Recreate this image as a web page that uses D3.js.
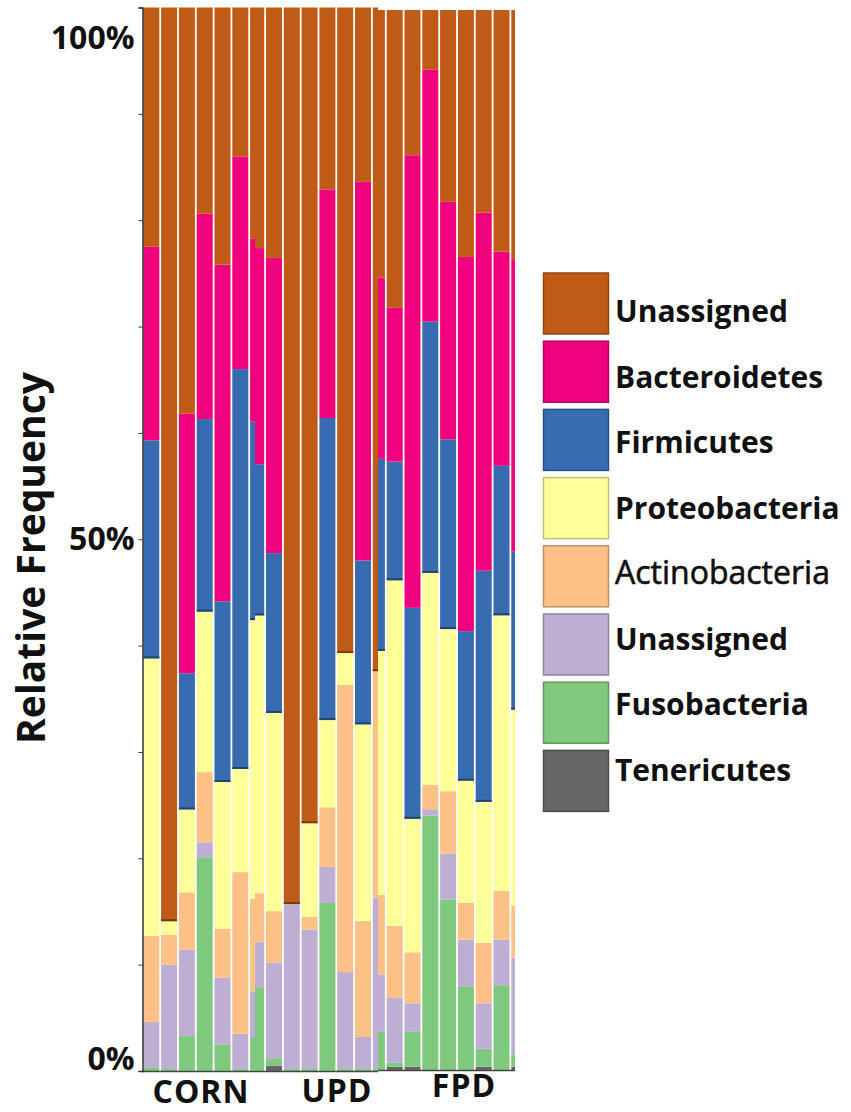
<!DOCTYPE html>
<html>
<head>
<meta charset="utf-8">
<script src="https://cdn.jsdelivr.net/npm/d3@7"></script>
<style>
  body { margin: 0; background: #fff; }
  text { font-family: "Open Sans", sans-serif; }
</style>
</head>
<body>
<script>
var w = 851,
    h = 1112;

// samples, left to right (the three panels are cut from wider plots)
var sampleIds = ["C1","C2","C3","C4","C5","C6","C7",
                 "U0","U1","U2","U3","U4","U5","U6","U7",
                 "F0","F1","F2","F3","F4","F5","F6","F7","F8"];
var sampleGroup = ["CORN","CORN","CORN","CORN","CORN","CORN","CORN",
                   "UPD","UPD","UPD","UPD","UPD","UPD","UPD","UPD",
                   "FPD","FPD","FPD","FPD","FPD","FPD","FPD","FPD","FPD"];

// relative abundance (%) per phylum, same order as sampleIds
var unassignedTop  = [22.5, 86.0, 38.2, 19.4, 24.2, 14.0, 21.7,
                      22.6, 23.5, 84.3, 76.7, 17.1, 60.7, 16.4, 62.4,
                      25.2, 28.1, 13.7, 5.6, 18.1, 23.3, 19.1, 22.8, 23.5];
var bacteroidetes  = [18.2, 0, 24.4, 19.3, 31.7, 20.0, 17.2,
                      20.3, 27.7, 0, 0, 21.5, 0, 35.6, 0,
                      17.1, 14.5, 42.7, 23.8, 22.4, 35.3, 33.8, 20.2, 27.6];
var firmicutes     = [20.5, 0, 12.8, 18.1, 17.0, 37.6, 18.7,
                      14.2, 15.0, 0, 0, 28.4, 0, 15.4, 0,
                      18.1, 11.2, 19.9, 23.7, 17.9, 14.1, 21.8, 14.1, 14.9];
var proteobacteria = [26.1, 1.3, 7.8, 15.1, 13.8, 9.7, 26.2,
                      26.1, 18.6, 0, 8.8, 8.2, 3.0, 18.5, 0,
                      23.0, 32.6, 12.6, 20.0, 15.3, 11.5, 13.3, 26.0, 18.5];
var actinobacteria = [8.1, 2.8, 5.4, 6.6, 4.6, 15.2, 8.7,
                      4.6, 4.8, 0, 1.2, 5.6, 27.0, 10.9, 21.3,
                      7.5, 6.8, 4.8, 2.3, 5.9, 3.5, 5.7, 4.6, 4.9];
var unassignedLow  = [4.25, 9.8, 8.1, 1.4, 6.3, 3.3, 4.4,
                      4.3, 9.0, 15.5, 13.1, 3.4, 9.1, 3.0, 16.1,
                      5.4, 6.1, 2.7, 0.6, 4.3, 4.4, 4.3, 4.3, 9.1];
var fusobacteria   = [0.35, 0.2, 3.3, 20.1, 2.5, 0.2, 3.1,
                      7.8, 0.7, 0.2, 0.2, 15.8, 0.2, 0.2, 0.2,
                      3.6, 0.4, 3.3, 24.0, 16.1, 7.9, 1.7, 8.0, 1.2];
var tenericutes    = [0, 0, 0, 0, 0, 0, 0,
                      0, 0.5, 0, 0, 0, 0, 0, 0,
                      0, 0.3, 0.3, 0, 0, 0, 0.3, 0, 0.3];

// stack order, bottom to top
var keys = ["ten","fuso","unL","act","pro","fir","bac","unT"];
var seriesValues = {ten: tenericutes, fuso: fusobacteria, unL: unassignedLow,
  act: actinobacteria, pro: proteobacteria, fir: firmicutes, bac: bacteroidetes, unT: unassignedTop};

// legend, top to bottom
var legendKeys = ["unT","bac","fir","pro","act","unL","fuso","ten"];
var legendNames = ["Unassigned","Bacteroidetes","Firmicutes","Proteobacteria",
                   "Actinobacteria","Unassigned","Fusobacteria","Tenericutes"];

var yTicks = [0, 0.1, 0.2, 0.3, 0.4, 0.5, 0.6, 0.7, 0.8, 0.9, 1];
var yLabels = {0: "0%", 0.5: "50%", 1: "100%"};

var color = d3.scaleOrdinal()
  .domain(["fuso","unL","act","pro","fir","bac","unT","ten"])
  .range(d3.schemeAccent);

// panel layout: band range, visible window, vertical range, label spot
var panels = [
  {name: "CORN", band: [142.4, 267.0], clip: [142, 255], y: [1071, 7.5], lx: 201, ly: 1103},
  {name: "UPD",  band: [247.3, 389.7], clip: [255, 378], y: [1071, 7.5], lx: 337, ly: 1102},
  {name: "FPD",  band: [368.0, 528.2], clip: [378, 515], y: [1070, 10],  lx: 464, ly: 1097}
];

var table = sampleIds.map(function(id, i) {
  var row = {id: id, group: sampleGroup[i]};
  keys.forEach(function(k) { row[k] = seriesValues[k][i]; });
  return row;
});

var svg = d3.select("body").append("svg")
  .attr("width", w)
  .attr("height", h);

var stack = d3.stack().keys(keys).offset(d3.stackOffsetExpand);
var edgeKeys = ["unT", "fir"];

// the segment sitting right under key k for a row (null if none)
function keyBelow(row, k) {
  for (var i = keys.indexOf(k) - 1; i >= 0; i--) {
    if (row[keys[i]] > 0) return keys[i];
  }
  return null;
}

panels.forEach(function(p, pi) {
  var rows = table.filter(function(d) { return d.group == p.name; });
  var x = d3.scaleBand()
    .domain(rows.map(function(d) { return d.id; }))
    .range(p.band)
    .paddingInner(0.1)
    .paddingOuter(0.05);
  var y = d3.scaleLinear().domain([0, 1]).range(p.y);
  p.yScale = y;

  svg.append("clipPath").attr("id", "clip" + pi)
    .append("rect")
    .attr("x", p.clip[0]).attr("y", 0)
    .attr("width", p.clip[1] - p.clip[0]).attr("height", h);

  var g = svg.append("g").attr("clip-path", "url(#clip" + pi + ")");
  var layers = g.selectAll("g.layer").data(stack(rows))
    .enter().append("g")
    .attr("class", "layer")
    .attr("fill", function(s) { return color(s.key); });

  layers.selectAll("rect").data(function(s) { return s; })
    .enter().append("rect")
    .attr("x", function(d) { return x(d.data.id); })
    .attr("y", function(d) { return y(d[1]); })
    .attr("width", x.bandwidth())
    .attr("height", function(d) { return Math.max(0, y(d[0]) - y(d[1])); });

  // darker lower edge on brown and blue segments over light ones
  layers.filter(function(s) { return edgeKeys.indexOf(s.key) >= 0; })
    .selectAll("line").data(function(s) {
      return s.filter(function(d) {
        var below = keyBelow(d.data, s.key);
        return y(d[0]) - y(d[1]) > 2 && below && below != "bac";
      }).map(function(d) { return {d: d, key: s.key}; });
    })
    .enter().append("line")
    .attr("x1", function(e) { return x(e.d.data.id); })
    .attr("x2", function(e) { return x(e.d.data.id) + x.bandwidth(); })
    .attr("y1", function(e) { return y(e.d[0]) - 1; })
    .attr("y2", function(e) { return y(e.d[0]) - 1; })
    .attr("stroke", function(e) { return d3.color(color(e.key)).darker(1.3); })
    .attr("stroke-width", 2);

  // baseline of the panel
  svg.append("line")
    .attr("x1", p.clip[0]).attr("x2", p.clip[1])
    .attr("y1", p.y[0] + 0.5).attr("y2", p.y[0] + 0.5)
    .attr("stroke", "#444")
    .attr("stroke-width", 1.5);

  svg.append("text")
    .attr("x", p.lx)
    .attr("y", p.ly)
    .attr("text-anchor", "middle")
    .attr("font-size", "32px")
    .attr("font-weight", "bold")
    .attr("letter-spacing", "1px")
    .attr("fill", "#111")
    .text(p.name);
});

// y axis
var yAxis = d3.axisLeft(panels[0].yScale)
  .tickValues(yTicks)
  .tickSize(4)
  .tickPadding(4)
  .tickFormat(function(d) { return yLabels[d] || ""; });

var ax = svg.append("g")
  .attr("transform", "translate(142.5,0)")
  .call(yAxis);
ax.select(".domain").attr("stroke", "#333").attr("stroke-width", 1.5);
ax.selectAll(".tick line").attr("stroke", "#333");
ax.selectAll(".tick text")
  .attr("font-family", "'Open Sans', sans-serif")
  .attr("font-size", "32px")
  .attr("font-weight", "bold")
  .attr("fill", "#111")
  .attr("dy", function(d) { return d == 1 ? "40.5" : d == 0 ? "-1.5" : "10.7"; });

svg.append("text")
  .attr("transform", "translate(45,558) rotate(-90)")
  .attr("text-anchor", "middle")
  .attr("font-size", "39px")
  .attr("font-weight", "bold")
  .attr("fill", "#111")
  .text("Relative Frequency");

// legend
var legend = svg.append("g");
legend.selectAll("rect").data(legendKeys)
  .enter().append("rect")
  .attr("x", 543.5)
  .attr("y", function(d, i) { return 273 + i * 68.2; })
  .attr("width", 65)
  .attr("height", 61)
  .attr("fill", function(d) { return color(d); })
  .attr("stroke", function(d) { return d3.color(color(d)).darker(0.8); })
  .attr("stroke-width", 1.5);

legend.selectAll("text").data(legendNames)
  .enter().append("text")
  .attr("x", 615)
  .attr("y", function(d, i) { return 322 + i * 65.5; })
  .attr("font-size", function(d) { return d == "Actinobacteria" ? "32px" : "30px"; })
  .attr("font-family", function(d) {
    return d == "Actinobacteria" ? "'Liberation Sans', Arial, sans-serif" : "'Open Sans', sans-serif";
  })
  .attr("font-weight", function(d) { return d == "Actinobacteria" ? "normal" : "bold"; })
  .attr("stroke", function(d) { return d == "Actinobacteria" ? "#111" : "none"; })
  .attr("stroke-width", 0.6)
  .attr("fill", "#111")
  .text(function(d) { return d; });
</script>
</body>
</html>
